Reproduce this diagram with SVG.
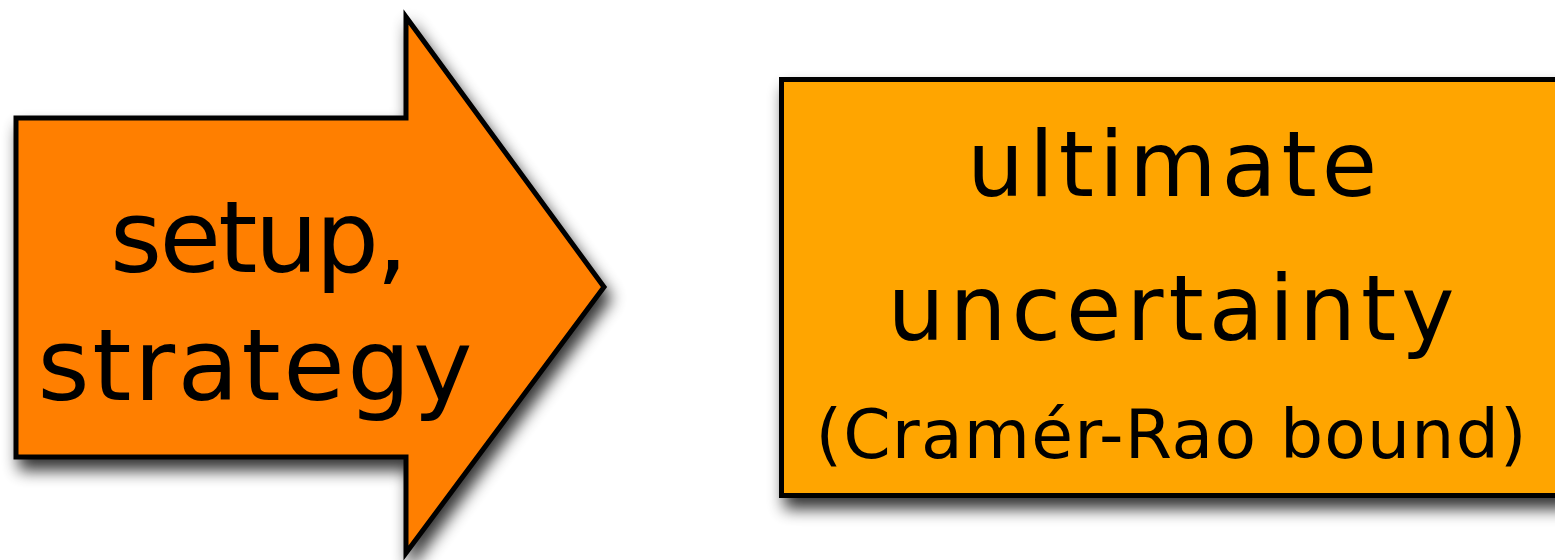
<svg xmlns="http://www.w3.org/2000/svg" width="1555" height="560" viewBox="0 0 1555 560">
  <style>
    .shape { stroke: #000; stroke-width: 5; stroke-linejoin: miter; stroke-miterlimit: 10; filter: url(#shadow); }
    .lbl { font-family: "DejaVu Sans", "Liberation Sans", sans-serif; fill: #000; text-anchor: middle; }
  </style>
  <defs>
    <filter id="shadow" x="-10%" y="-10%" width="130%" height="130%">
      <feGaussianBlur in="SourceAlpha" stdDeviation="8"/>
      <feOffset dx="5" dy="11" result="b"/>
      <feComponentTransfer><feFuncA type="linear" slope="0.8"/></feComponentTransfer>
      <feMerge><feMergeNode/><feMergeNode in="SourceGraphic"/></feMerge>
    </filter>
  </defs>
  <rect width="1555" height="560" fill="#fff"/>
  <g id="connectors"></g>
  <g id="node-setup">
    <polygon class="shape" fill="#FF7F00" points="16,118 406,118 406,17 604,287 406,553 406,457 16,457"/>
    <text class="lbl" x="259" y="272" font-size="100" textLength="298">setup,</text>
    <text class="lbl" x="255" y="400" font-size="100" textLength="435">strategy</text>
  </g>
  <g id="node-uncertainty">
    <rect class="shape" fill="#FFA500" x="781.5" y="79.5" width="800" height="416"/>
    <text class="lbl" x="1172" y="196" font-size="90" textLength="410">ultimate</text>
    <text class="lbl" x="1171" y="340" font-size="90" textLength="567">uncertainty</text>
    <text class="lbl" x="1171" y="458" font-size="68" textLength="711">(Cramér-Rao bound)</text>
  </g>
</svg>
